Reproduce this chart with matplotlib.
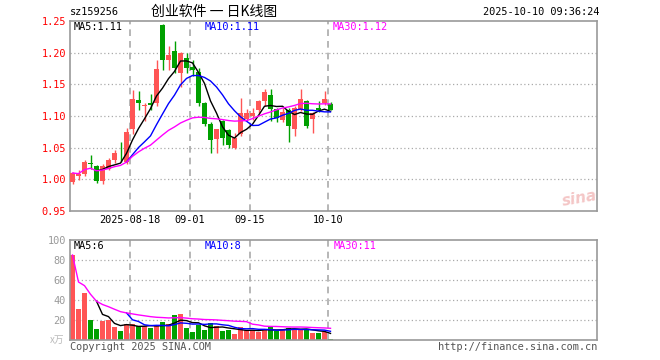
import matplotlib
matplotlib.use("Agg")
import matplotlib.pyplot as plt
import numpy as np
import pandas as pd

# ---------------- data ----------------
dates = pd.bdate_range("2025-08-04", "2025-09-30").strftime("%Y-%m-%d").tolist() + ["2025-10-09", "2025-10-10"]

open_ = [0.995, 1.005, 1.008, 1.025, 1.021, 0.997, 1.017, 1.030, 1.039, 1.028,
         1.079, 1.126, 1.116, 1.120, 1.121, 1.244, 1.189, 1.202, 1.168, 1.192,
         1.178, 1.170, 1.121, 1.088, 1.064, 1.092, 1.078, 1.050, 1.071, 1.095,
         1.100, 1.109, 1.123, 1.133, 1.111, 1.093, 1.110, 1.079, 1.110, 1.123,
         1.096, 1.112, 1.121, 1.119]
close = [1.010, 1.008, 1.028, 1.024, 0.997, 1.021, 1.031, 1.041, 1.038, 1.074,
         1.127, 1.121, 1.118, 1.118, 1.174, 1.189, 1.196, 1.175, 1.200, 1.175,
         1.173, 1.121, 1.088, 1.062, 1.079, 1.065, 1.054, 1.066, 1.105, 1.105,
         1.105, 1.124, 1.138, 1.111, 1.097, 1.107, 1.084, 1.1125, 1.127, 1.085,
         1.105, 1.110, 1.127, 1.110]
high = [1.011, 1.015, 1.030, 1.038, 1.022, 1.025, 1.033, 1.047, 1.059, 1.081,
        1.141, 1.139, 1.120, 1.135, 1.189, 1.245, 1.211, 1.218, 1.201, 1.200,
        1.188, 1.176, 1.122, 1.090, 1.080, 1.094, 1.080, 1.073, 1.128, 1.111,
        1.112, 1.126, 1.143, 1.143, 1.112, 1.112, 1.112, 1.115, 1.143, 1.125,
        1.106, 1.124, 1.139, 1.122]
low = [0.993, 0.999, 1.006, 1.016, 0.994, 0.993, 1.014, 1.026, 1.027, 1.024,
       1.071, 1.109, 1.092, 1.109, 1.116, 1.173, 1.173, 1.168, 1.145, 1.168,
       1.163, 1.115, 1.084, 1.042, 1.042, 1.054, 1.050, 1.048, 1.069, 1.093,
       1.094, 1.104, 1.116, 1.092, 1.090, 1.090, 1.059, 1.069, 1.108, 1.081,
       1.073, 1.107, 1.118, 1.109]
volume = [85, 31, 47, 20, 11, 19, 20, 13, 9, 16, 16, 14, 14, 12, 14, 18, 16, 25, 26, 12,
          8, 15, 10, 17, 14, 9, 10, 6, 13, 10, 10, 8, 10, 13, 9, 11, 12, 11, 11, 10,
          7, 7, 8, 1]

price_ticks = [0.95, 1.00, 1.05, 1.10, 1.15, 1.20, 1.25]
price_tick_labels = ["0.95", "1.00", "1.05", "1.10", "1.15", "1.20", "1.25"]
vol_ticks = [20, 40, 60, 80, 100]
vol_tick_labels = ["20", "40", "60", "80", "100"]
date_marks = ["2025-08-18", "2025-09-01", "2025-09-15", "2025-10-10"]
date_mark_labels = ["2025-08-18", "09-01", "09-15", "10-10"]

code = "sz159256"
title = "创业软件 一 日K线图"
timestamp = "2025-10-10 09:36:24"
price_ma_labels = ["MA5:1.11", "MA10:1.11", "MA30:1.12"]
vol_ma_labels = ["MA5:6", "MA10:8", "MA30:11"]

# ---------------- style ----------------
RED = "#ff5555"
GREEN = "#00a000"
MA_COLORS = ["#000000", "#0000ff", "#ff00ff"]
GRID = "#aaaaaa"
FRAME = "#999999"
MONO = "DejaVu Sans Mono"
FS = 7.4

W, H = 660, 360
fig = plt.figure(figsize=(6.6, 3.6), dpi=100)
fig.patch.set_facecolor("white")


def fx(px):
    return px / W


def fy(py):
    return 1 - py / H


L, R = 70, 597
ax = fig.add_axes([fx(L), fy(211), fx(R) - fx(L), fy(21) - fy(211)])
axv = fig.add_axes([fx(L), fy(340), fx(R) - fx(L), fy(240) - fy(340)])

n = len(close)
x = np.arange(n)
slot = 6.0
x0 = -2.5 / slot
x1 = x0 + (R - L) / slot
bw = 5.0 / slot

o = np.array(open_)
c = np.array(close)
hi = np.array(high)
lo = np.array(low)
up = c >= o
colors = np.where(up, RED, GREEN)

cs = pd.Series(c)
ma5 = cs.rolling(5).mean()
ma10 = cs.rolling(10).mean()
ma30 = cs.rolling(30, min_periods=1).mean()

vs = pd.Series(volume, dtype=float)
vma5 = vs.rolling(5).mean()
vma10 = vs.rolling(10).mean()
vma30 = vs.rolling(30, min_periods=1).mean()

mark_idx = [dates.index(d) for d in date_marks]

for a, ylim in ((ax, (0.95, 1.25)), (axv, (0, 100))):
    a.set_xlim(x0, x1)
    a.set_ylim(*ylim)
    for s in a.spines.values():
        s.set_color(FRAME)
        s.set_linewidth(1.2)
    for i in mark_idx:
        a.axvline(i - 2.5 / slot, color=GRID, lw=1.2, ls=(0, (4, 3)), zorder=0)

# gridlines
for t in price_ticks[1:-1]:
    ax.axhline(t, color=GRID, lw=0.9, ls=(0, (1, 2)), zorder=0)
for t in vol_ticks[:-1]:
    axv.axhline(t, color=GRID, lw=0.9, ls=(0, (1, 2)), zorder=0)

# candles
minh = 0.0012
ax.vlines(x, lo, hi, colors=colors, lw=1.0, zorder=2)
body_b = np.minimum(o, c)
body_h = np.maximum(np.abs(c - o), minh)
ax.bar(x, body_h, bottom=body_b, width=bw, color=colors, lw=0, zorder=3)

for s, col in zip((ma5, ma10, ma30), MA_COLORS):
    ax.plot(x, s, color=col, lw=1.0, zorder=4)

# volume
axv.bar(x, volume, width=bw, color=colors, lw=0, zorder=2)
for s, col in zip((vma5, vma10, vma30), MA_COLORS):
    axv.plot(x, s, color=col, lw=1.0, zorder=4)

# ticks
ax.set_yticks(price_ticks)
ax.set_yticklabels(price_tick_labels, color="#ff0000", fontfamily=MONO, fontsize=FS)
ax.tick_params(axis="y", length=0, pad=3)
ax.set_xticks([i - 2.5 / slot for i in mark_idx])
ax.set_xticklabels(date_mark_labels, fontfamily=MONO, fontsize=FS, color="#000000")
ax.tick_params(axis="x", length=0, pad=3)

axv.set_yticks(vol_ticks)
axv.set_yticklabels(vol_tick_labels, color="#999999", fontfamily=MONO, fontsize=FS)
axv.tick_params(axis="y", length=0, pad=3)
axv.set_xticks([])

# texts
fig.text(fx(70), fy(12), code, fontfamily=MONO, fontsize=FS, va="center", ha="left")
fig.text(fx(214), fy(12), title, fontfamily=["Noto Sans CJK SC", "DejaVu Sans"],
         fontsize=10, va="center", ha="center")
fig.text(fx(599), fy(12), timestamp, fontfamily=MONO, fontsize=FS, va="center", ha="right")

for lab, col, px in zip(price_ma_labels, MA_COLORS, (74, 205, 333)):
    fig.text(fx(px), fy(27), lab, color=col, fontfamily=MONO, fontsize=FS, va="center", ha="left")
for lab, col, px in zip(vol_ma_labels, MA_COLORS, (74, 205, 334)):
    fig.text(fx(px), fy(246), lab, color=col, fontfamily=MONO, fontsize=FS, va="center", ha="left")

fig.text(fx(64), fy(340), "x万", color="#bbbbbb", fontfamily=["Noto Sans CJK SC", "DejaVu Sans"],
         fontsize=7, va="center", ha="right")
fig.text(fx(70), fy(347), "Copyright 2025 SINA.COM", color="#555555", fontfamily=MONO,
         fontsize=FS, va="center", ha="left")
fig.text(fx(597), fy(347), "http://finance.sina.com.cn", color="#555555", fontfamily=MONO,
         fontsize=FS, va="center", ha="right")
fig.text(fx(580), fy(198), "sina", color="#f4c6c6", fontsize=11, fontweight="bold",
         style="italic", va="center", ha="center", rotation=10)

fig.savefig("out.png", dpi=100, facecolor="white")
